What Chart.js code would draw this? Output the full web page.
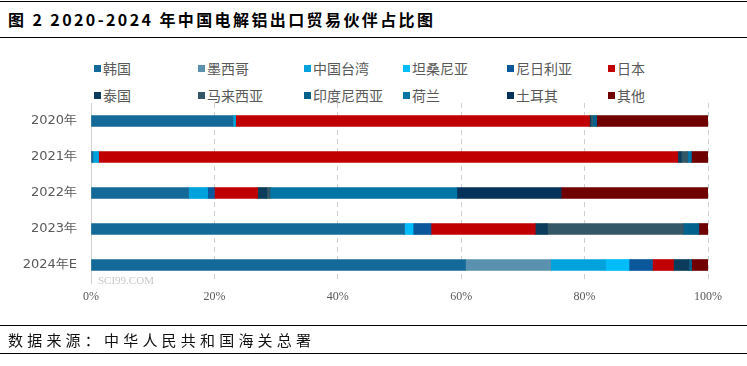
<!DOCTYPE html>
<html><head><meta charset="utf-8">
<script src="https://cdn.jsdelivr.net/npm/chart.js@4"></script>
<style>
html,body{margin:0;padding:0;background:#fff;}
#wrap{position:relative;width:747px;height:366px;overflow:hidden;font-family:"Noto Sans CJK SC","DejaVu Sans",sans-serif;}
#title{position:absolute;left:8px;top:7px;font-size:16px;font-weight:bold;color:#000;letter-spacing:2.4px;white-space:nowrap;font-family:"Noto Sans CJK SC",sans-serif;}
.hl{position:absolute;left:0;width:747px;height:1px;background:#000;}
#src{position:absolute;left:8px;top:329px;font-size:15px;color:#111;letter-spacing:4.2px;white-space:nowrap;}
#legend{position:absolute;left:0;top:0;width:747px;height:110px;}
.li{position:absolute;font-size:14px;color:#595959;white-space:nowrap;line-height:16px;}
.li i{display:inline-block;width:7px;height:7px;margin-right:2px;vertical-align:2px;}
#wm{position:absolute;left:98px;top:274px;font-size:11px;color:#c8c8c8;font-family:"Liberation Serif",serif;}
canvas{position:absolute;left:0;top:0;}
</style></head>
<body><div id="wrap">
<div class="hl" style="top:1px"></div>
<div id="title">图 2 2020-2024 年中国电解铝出口贸易伙伴占比图</div>
<div class="hl" style="top:37px"></div>
<div id="legend"></div>
<canvas id="c" width="747" height="366"></canvas>
<div id="wm">SCI99.COM</div>
<div class="hl" style="top:325px"></div>
<div id="src">数据来源：中华人民共和国海关总署</div>
<div class="hl" style="top:353px"></div>
</div>
<script>
const categories = ['2020年','2021年','2022年','2023年','2024年E'];
const seriesNames = ['韩国','墨西哥','中国台湾','坦桑尼亚','尼日利亚','日本','泰国','马来西亚','印度尼西亚','荷兰','土耳其','其他'];
const korea       = [23.0, 0.3, 15.8, 50.8, 60.7];
const mexico      = [0, 0, 0, 0, 13.8];
const taiwan      = [0.4, 0.9, 3.1, 0, 8.9];
const tanzania    = [0, 0, 0, 1.4, 3.8];
const nigeria     = [0, 0, 1.1, 2.9, 3.8];
const japan       = [57.4, 93.9, 7.0, 16.9, 3.4];
const thailand    = [0.2, 0.6, 1.5, 2.0, 2.5];
const malaysia    = [0.3, 1.0, 0.5, 22.0, 0];
const indonesia   = [0.6, 0, 0, 2.5, 0.4];
const netherlands = [0, 0.6, 30.3, 0, 0];
const turkey      = [0, 0, 16.9, 0, 0];
const others      = [18.1, 2.7, 23.8, 1.5, 2.7];
const xTicks = [0, 20, 40, 60, 80, 100];

const seriesValues = [korea, mexico, taiwan, tanzania, nigeria, japan, thailand, malaysia, indonesia, netherlands, turkey, others];
const colors = ['#136a99','#5a91ae','#00a2db','#00bdf9','#0a579b','#c00000','#0b3c5b','#345767','#00628c','#0074a5','#04325a','#700000'];

const legCols = [94, 198, 304, 403, 507, 608];
const legRows = [60, 87];
const leg = document.getElementById('legend');
seriesNames.forEach((n, i) => {
  const d = document.createElement('div');
  d.className = 'li';
  d.style.left = legCols[i % 6] + 'px';
  d.style.top = legRows[Math.floor(i / 6)] + 'px';
  d.innerHTML = '<i style="background:' + colors[i] + '"></i>' + n;
  leg.appendChild(d);
});

new Chart(document.getElementById('c'), {
  type: 'bar',
  data: {
    labels: categories,
    datasets: seriesNames.map((n, i) => ({
      label: n, data: seriesValues[i], backgroundColor: colors[i],
      borderWidth: 0, barThickness: 11
    }))
  },
  options: {
    indexAxis: 'y',
    responsive: false,
    animation: false,
    layout: { padding: { left: 0, right: 39, top: 103, bottom: 58 } },
    plugins: { legend: { display: false }, tooltip: { enabled: false } },
    scales: {
      x: {
        stacked: true, min: 0, max: 100,
        afterFit: s => { s.height = 25; },
        afterBuildTicks: s => { s.ticks = xTicks.map(v => ({ value: v })); },
        ticks: { callback: v => v + '%', color: '#595959', font: { size: 12, family: 'Liberation Serif' }, padding: 7, maxRotation: 0 },
        grid: { color: '#d0d0d0', drawTicks: false, lineWidth: 1 },
        border: { display: false, dash: [5, 4] }
      },
      y: {
        stacked: true,
        afterFit: s => { s.width = 91; },
        ticks: { color: '#595959', font: { size: 13, family: 'DejaVu Sans' }, padding: 14 },
        grid: { display: false, drawTicks: false },
        border: { display: true, color: '#d0d0d0', width: 1 }
      }
    }
  }
});
</script>
</body></html>
